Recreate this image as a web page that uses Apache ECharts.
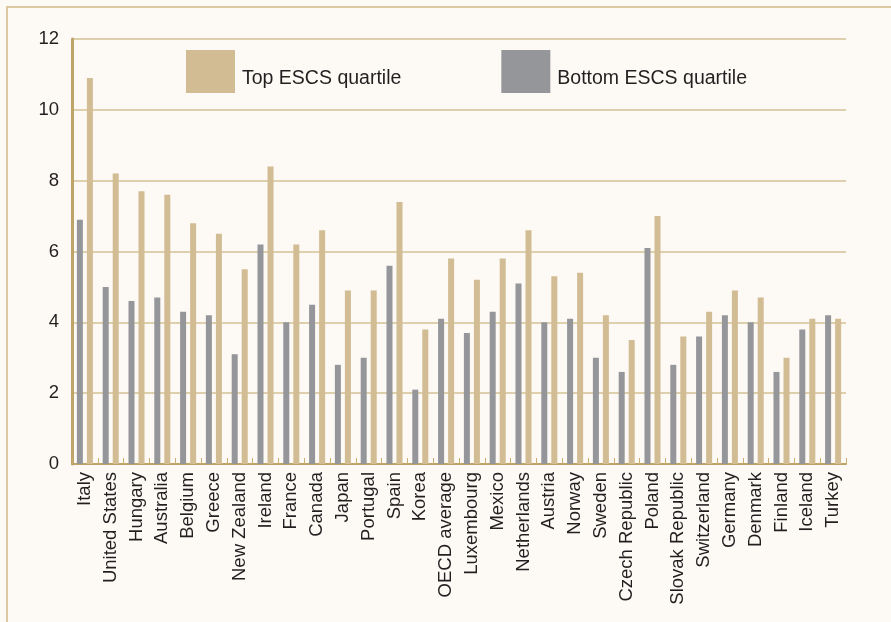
<!DOCTYPE html>
<html>
<head>
<meta charset="utf-8">
<script src="https://cdn.jsdelivr.net/npm/echarts@6/dist/echarts.min.js"></script>
<style>
  html, body { margin: 0; padding: 0; background: #FDF9F5; }
  #frame { position: absolute; left: 6px; top: 6px; width: 885px; height: 616px;
           border-left: 2px solid #DCC9A2; border-top: 2px solid #DCC9A2; }
  #chart { position: absolute; left: 0; top: 0; width: 891px; height: 622px; }
</style>
</head>
<body>
<div id="frame"></div>
<div id="chart"></div>
<script>
const categories = ['Italy','United States','Hungary','Australia','Belgium','Greece','New Zealand','Ireland','France','Canada','Japan','Portugal','Spain','Korea','OECD average','Luxembourg','Mexico','Netherlands','Austria','Norway','Sweden','Czech Republic','Poland','Slovak Republic','Switzerland','Germany','Denmark','Finland','Iceland','Turkey'];
const bottomQuartile = [6.9,5.0,4.6,4.7,4.3,4.2,3.1,6.2,4.0,4.5,2.8,3.0,5.6,2.1,4.1,3.7,4.3,5.1,4.0,4.1,3.0,2.6,6.1,2.8,3.6,4.2,4.0,2.6,3.8,4.2];
const topQuartile = [10.9,8.2,7.7,7.6,6.8,6.5,5.5,8.4,6.2,6.6,4.9,4.9,7.4,3.8,5.8,5.2,5.8,6.6,5.3,5.4,4.2,3.5,7.0,3.6,4.3,4.9,4.7,3.0,4.1,4.1];
const seriesNames = ['Top ESCS quartile','Bottom ESCS quartile'];
const yTicks = { min: 0, max: 12, interval: 2 };

const font = "'Liberation Sans', Arial, Helvetica, sans-serif";
const chart = echarts.init(document.getElementById('chart'));
chart.setOption({
  backgroundColor: 'transparent',
  animation: false,
  textStyle: { fontFamily: font },
  legend: {
    left: 186, top: 50, padding: 0,
    itemWidth: 49, itemHeight: 43, itemGap: 100,
    icon: 'rect',
    data: seriesNames,
    formatter: '{a|{name}}',
    textStyle: {
      fontSize: 19.5, color: '#231F20', fontFamily: font,
      rich: { a: { fontSize: 19.5, color: '#231F20', fontFamily: font, padding: [14, 0, 0, 2] } }
    }
  },
  grid: { left: 72, right: 45, top: 39, bottom: 158 },
  xAxis: {
    type: 'category',
    data: categories,
    axisLine: { lineStyle: { color: '#BFA46A', width: 2 } },
    axisTick: { show: true, inside: true, length: 6, interval: 0, lineStyle: { color: '#C9AE74', width: 1 } },
    axisLabel: { rotate: 90, interval: 0, fontSize: 18.5, color: '#231F20', margin: 8, fontFamily: font }
  },
  yAxis: {
    type: 'value',
    min: yTicks.min, max: yTicks.max, interval: yTicks.interval,
    axisLine: { show: true, lineStyle: { color: '#BFA46A', width: 3 } },
    axisTick: { show: false },
    axisLabel: { fontSize: 18.5, color: '#231F20', margin: 13, fontFamily: font },
    splitLine: { lineStyle: { color: '#D3C095', width: 1.5 } }
  },
  series: [
    { name: seriesNames[1], type: 'bar', data: bottomQuartile, barWidth: 6, barGap: '67%',
      itemStyle: { color: '#95969A' } },
    { name: seriesNames[0], type: 'bar', data: topQuartile, barWidth: 6, barGap: '67%',
      itemStyle: { color: '#D2BC93' } }
  ]
});
</script>
</body>
</html>
